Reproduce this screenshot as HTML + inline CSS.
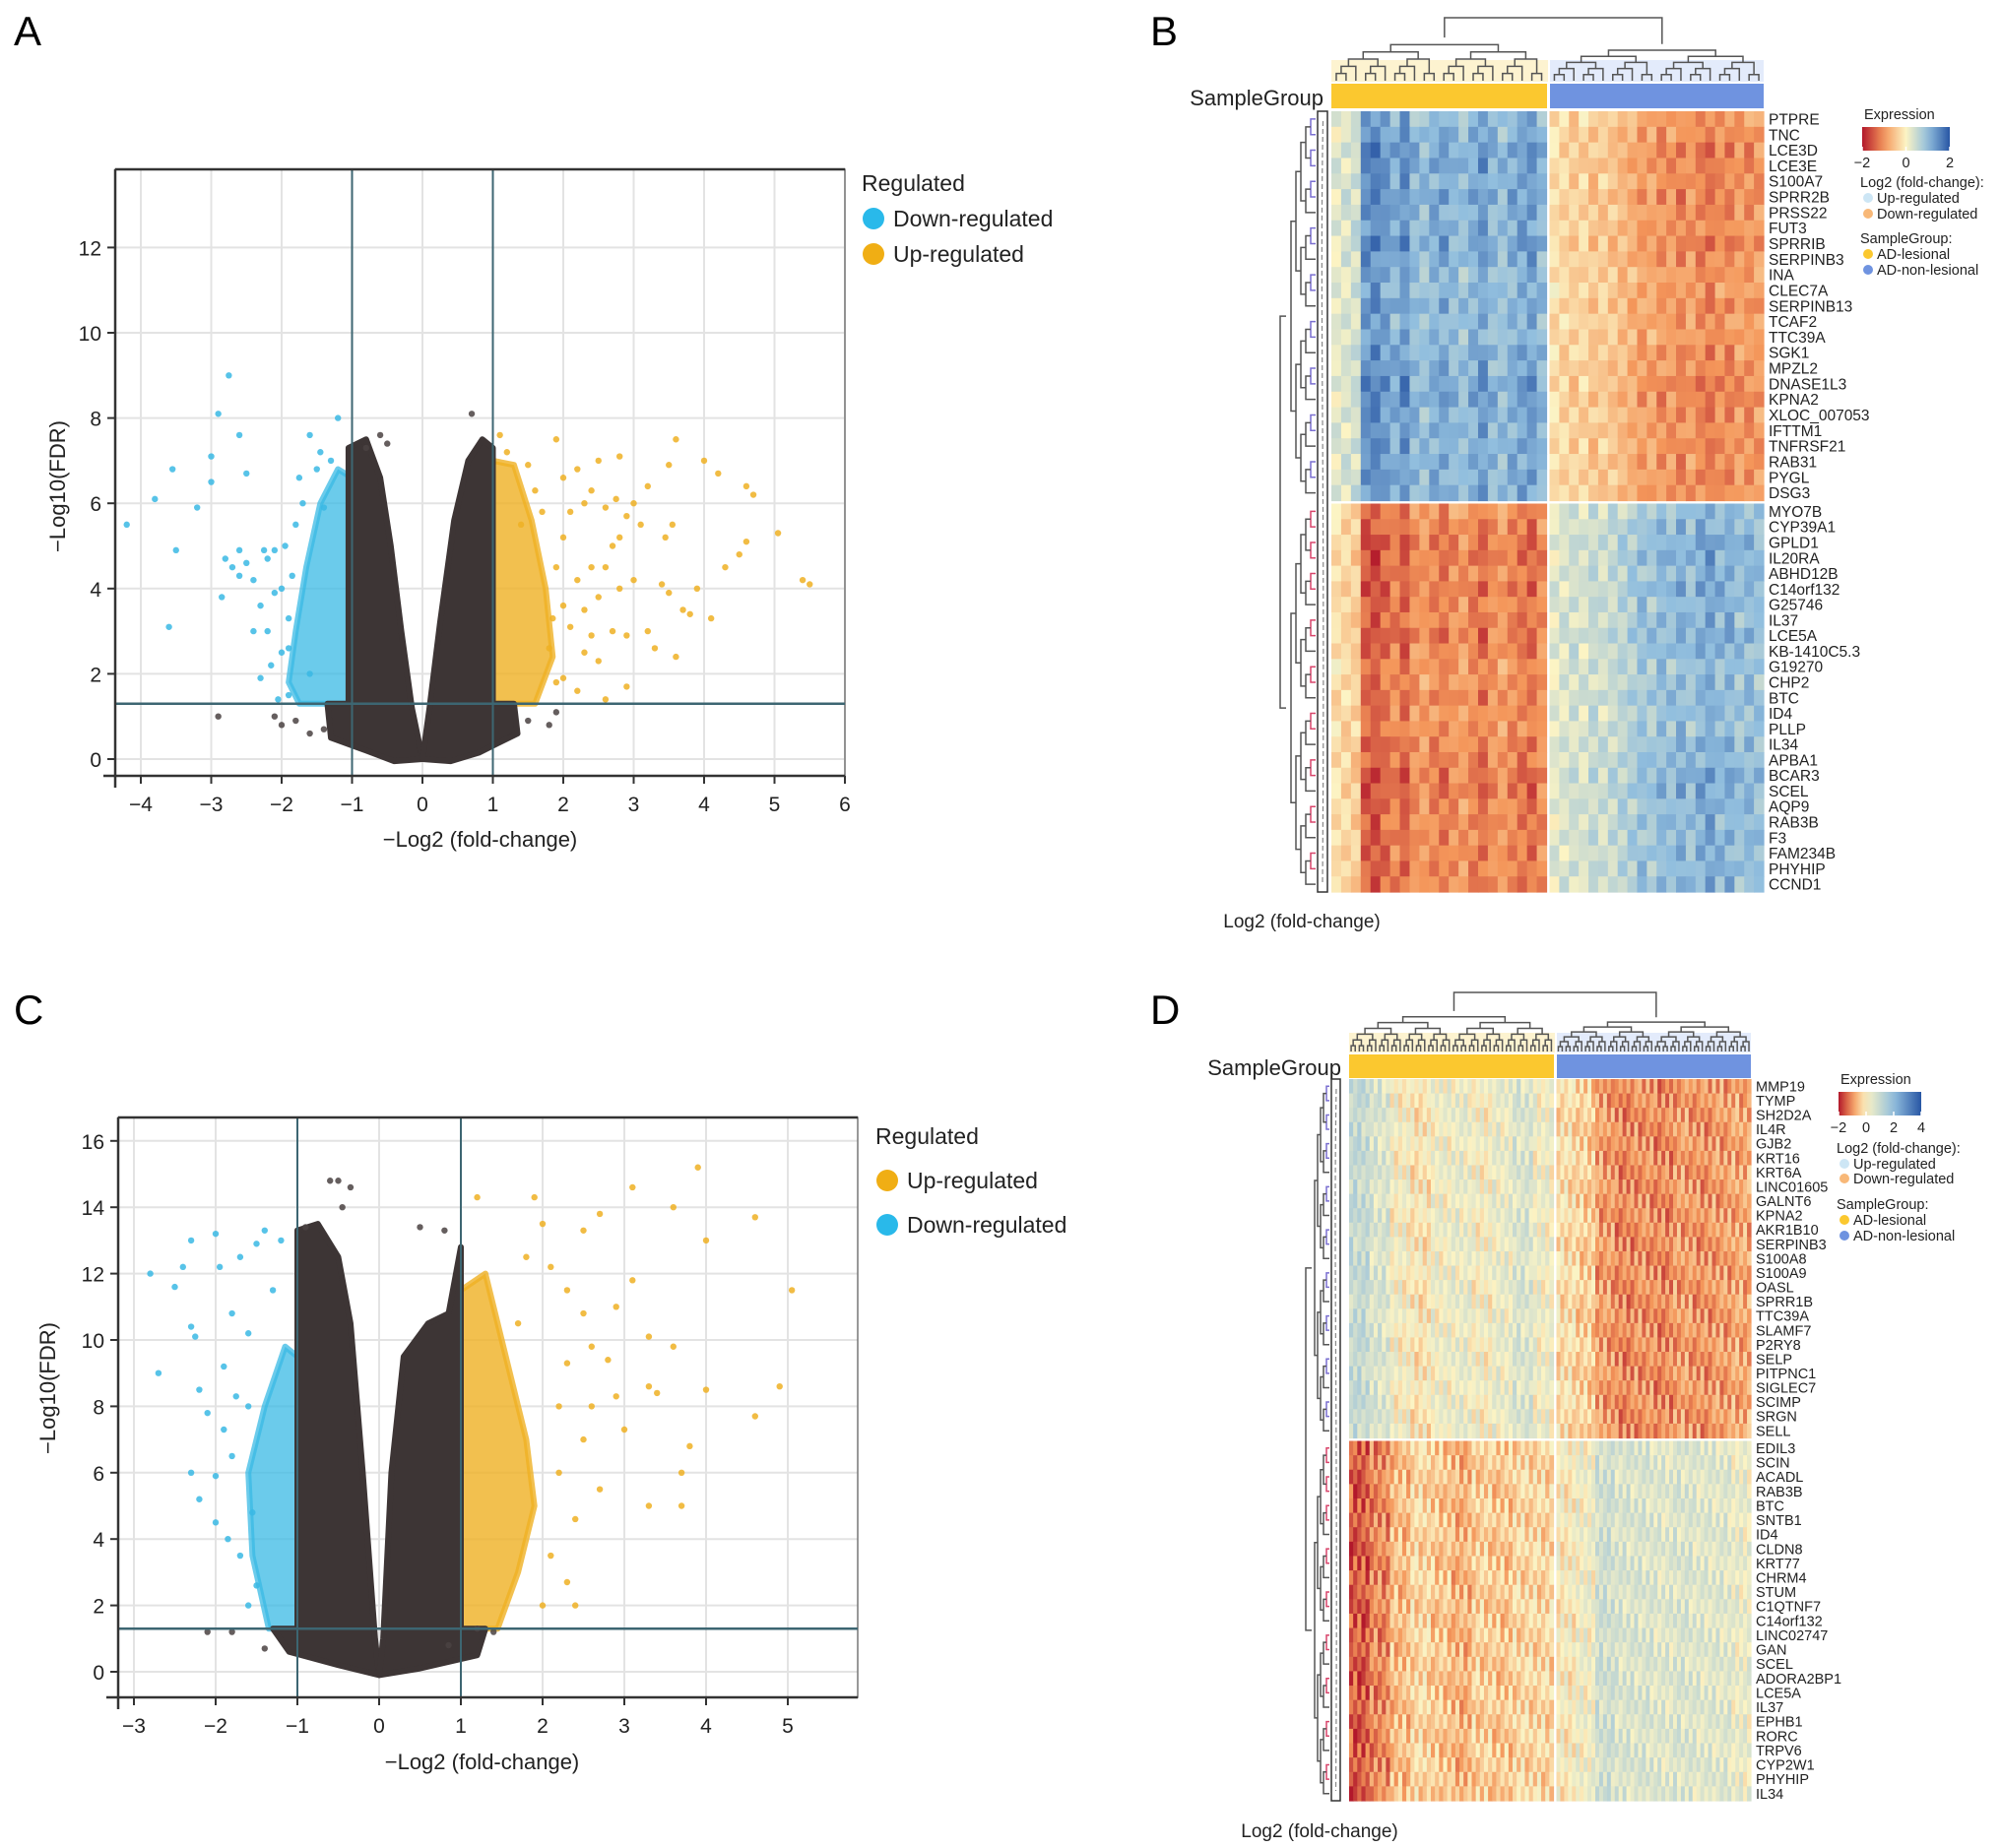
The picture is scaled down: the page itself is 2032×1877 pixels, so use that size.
<!DOCTYPE html>
<html><head><meta charset="utf-8"><style>
html,body{margin:0;padding:0;background:#fff;}
svg{display:block;font-family:"Liberation Sans",Arial,sans-serif;}
</style></head>
<body>
<svg id="fig" width="2032" height="1877" viewBox="0 0 2032 1877" xmlns="http://www.w3.org/2000/svg">
<text x="14" y="46" font-size="42">A</text>
<text x="1168" y="46" font-size="42">B</text>
<text x="14" y="1040" font-size="42">C</text>
<text x="1168" y="1040" font-size="42">D</text>
</svg>
<script>
// ---------- Volcano A data ----------
const aBlue=[[-4.2,5.5],[-3.8,6.1],[-3.6,3.1],[-3.5,4.9],[-3.55,6.8],[-3.2,5.9],[-3.0,6.5],[-3.0,7.1],[-2.9,8.1],[-2.75,9.0],[-2.6,7.6],[-2.5,6.7],[-2.85,3.8],[-2.8,4.7],[-2.7,4.5],[-2.6,4.9],[-2.5,4.6],[-2.4,4.2],[-2.3,3.6],[-2.2,4.7],[-2.1,3.9],[-2.3,1.9],[-2.2,3.0],[-2.0,2.5],[-1.9,3.3],[-1.95,5.0],[-1.8,5.5],[-1.7,6.0],[-1.6,7.6],[-1.5,6.8],[-1.4,5.9],[-1.3,7.0],[-1.2,8.0],[-1.9,1.5],[-2.05,1.4],[-2.6,4.3],[-2.25,4.9],[-1.75,6.6],[-1.45,7.2],[-2.15,2.2],[-1.6,2.0],[-1.85,4.3],[-2.4,3.0],[-2.0,4.0],[-1.9,2.6],[-2.1,4.9]];
const aGrey=[[-2.9,1.0],[-2.1,1.0],[-2.0,0.8],[-1.8,0.9],[-1.6,0.6],[1.9,1.1],[1.8,0.8],[1.5,0.9],[0.7,8.1],[-0.6,7.6],[-0.5,7.4],[-0.8,7.3],[-1.4,0.7]];
const aYellow=[[1.1,7.6],[1.2,7.2],[1.5,6.9],[1.9,7.5],[2.0,6.6],[2.2,6.8],[2.5,7.0],[2.8,7.1],[3.0,6.0],[3.2,6.4],[3.5,6.9],[3.6,7.5],[4.0,7.0],[4.2,6.7],[4.7,6.2],[4.6,6.4],[5.05,5.3],[5.4,4.2],[5.5,4.1],[4.5,4.8],[4.6,5.1],[4.3,4.5],[3.9,4.0],[3.8,3.4],[3.7,3.5],[4.1,3.3],[3.3,2.6],[3.2,3.0],[2.9,2.9],[3.0,4.2],[3.4,4.1],[3.55,5.5],[3.45,5.2],[2.7,5.0],[2.9,5.7],[2.6,4.5],[2.5,3.8],[2.4,4.5],[2.3,3.5],[2.2,4.2],[2.1,5.8],[2.3,6.0],[2.6,5.9],[2.8,5.2],[2.0,5.2],[1.9,4.5],[2.5,2.3],[2.7,3.0],[2.9,1.7],[2.6,1.4],[2.3,2.5],[2.1,3.1],[1.8,2.6],[2.0,1.9],[3.6,2.4],[3.5,3.9],[1.7,5.8],[1.6,6.3],[1.4,5.5],[2.4,6.3],[2.75,6.1],[3.1,5.5],[1.85,3.3],[2.2,1.6],[2.8,4.0],[2.0,3.6],[2.4,2.9],[1.9,1.8]];
const aGreyL=[[-1.05,7.3],[-0.8,7.5],[-0.6,6.6],[-0.45,5],[-0.3,3],[-0.15,1.2],[0,0],[-0.4,-0.05],[-0.8,0.2],[-1.3,0.5],[-1.35,1.3],[-1.05,1.3]];
const aGreyR=[[0,0],[0.1,1.2],[0.25,3.2],[0.45,5.6],[0.65,7.0],[0.85,7.5],[1.0,7.3],[1.0,1.3],[1.3,1.3],[1.35,0.6],[0.8,0.15],[0.4,-0.05]];
const aBlueDense=[[-1,1.3],[-1,6.6],[-1.2,6.8],[-1.45,6.0],[-1.65,4.5],[-1.8,3.0],[-1.9,1.8],[-1.75,1.3]];
const aYellowDense=[[1,1.3],[1,7.0],[1.3,6.9],[1.55,5.6],[1.75,4.0],[1.85,2.4],[1.6,1.3]];
// ---------- Volcano C data ----------
const cBlue=[[-2.8,12.0],[-2.7,9.0],[-2.5,11.6],[-2.4,12.2],[-2.3,10.4],[-2.25,10.1],[-2.0,13.2],[-1.95,12.2],[-2.2,8.5],[-2.1,7.8],[-2.3,6.0],[-2.2,5.2],[-2.0,4.5],[-1.9,9.2],[-1.8,10.8],[-1.7,12.5],[-1.6,10.2],[-1.8,6.5],[-1.7,3.5],[-1.6,2.0],[-1.5,12.9],[-1.4,13.3],[-1.2,13.0],[-1.3,11.5],[-2.3,13.0],[-1.9,7.3],[-2.0,5.9],[-1.75,8.3],[-1.85,4.0],[-1.55,4.8],[-1.6,8.0],[-1.5,2.6]];
const cGrey=[[-0.6,14.8],[-0.5,14.8],[-0.35,14.6],[-0.45,14.0],[-0.9,13.4],[0.5,13.4],[0.8,13.3],[-2.1,1.2],[-1.8,1.2],[-1.4,0.7],[1.2,1.3],[1.4,1.2],[0.85,0.8]];
const cYellow=[[3.9,15.2],[3.1,14.6],[2.7,13.8],[3.6,14.0],[4.6,13.7],[4.0,13.0],[3.1,11.8],[2.9,11.0],[3.3,10.1],[2.5,10.8],[2.1,12.2],[2.3,11.5],[5.05,11.5],[4.9,8.6],[4.6,7.7],[3.4,8.4],[3.3,8.6],[3.0,7.3],[3.8,6.8],[3.7,5.0],[4.0,8.5],[2.6,8.0],[2.3,9.3],[2.5,7.0],[2.2,6.0],[2.7,5.5],[2.4,4.6],[2.1,3.5],[2.3,2.7],[2.0,2.0],[2.4,2.0],[2.2,8.0],[2.8,9.4],[3.7,6.0],[1.8,12.5],[2.0,13.5],[1.7,10.5],[2.6,9.8],[1.9,14.3],[1.2,14.3],[2.5,13.3],[3.6,9.8],[3.3,5.0],[2.9,8.3]];
const cGreyL=[[-1.0,13.3],[-0.75,13.5],[-0.5,12.5],[-0.35,10.5],[-0.2,6],[-0.05,1],[0,-0.1],[-0.5,0.2],[-1.1,0.6],[-1.3,1.3],[-1.0,1.3]];
const cGreyR=[[0,-0.1],[0.05,1],[0.15,6],[0.3,9.5],[0.6,10.5],[0.85,10.8],[1.0,12.8],[1.0,1.3],[1.3,1.3],[1.2,0.5],[0.5,0.1]];
const cBlueDense=[[-1,1.3],[-1,9.5],[-1.15,9.8],[-1.4,8],[-1.6,6],[-1.55,3.5],[-1.35,1.3]];
const cYellowDense=[[1,1.3],[1,11.5],[1.3,12],[1.55,9.5],[1.8,7],[1.9,5],[1.7,3],[1.45,1.3]];

const S='http://www.w3.org/2000/svg';
const svg=document.getElementById('fig');
function el(tag,attrs,parent){const e=document.createElementNS(S,tag);for(const k in attrs)e.setAttribute(k,attrs[k]);(parent||svg).appendChild(e);return e;}
function txt(x,y,s,size,attrs,parent){const t=el('text',Object.assign({x:x,y:y,'font-size':size},attrs||{}),parent);t.textContent=s;return t;}

function volcano(cfg){
  const g=el('g',{});
  
  
  const X=v=>cfg.x0px+v*cfg.xs, Y=v=>cfg.y0px-v*cfg.ys;
  el('rect',{x:cfg.L,y:cfg.T,width:cfg.R-cfg.L,height:cfg.B-cfg.T,fill:'#fff'},g);
  for(const t of cfg.xt){const l=el('line',{x1:X(t),x2:X(t),y1:cfg.T,y2:cfg.B,stroke:'#e3e3e3','stroke-width':2},g);}
  for(const t of cfg.yt){const l=el('line',{x1:cfg.L,x2:cfg.R,y1:Y(t),y2:Y(t),stroke:'#e3e3e3','stroke-width':2},g);}
  el('rect',{x:cfg.L,y:cfg.T,width:cfg.R-cfg.L,height:cfg.B-cfg.T,fill:'none',stroke:'#777','stroke-width':1.5},g);
  const poly=(pts,fill,op,name)=>{const p=el('polygon',{points:pts.map(p=>X(p[0])+','+Y(p[1])).join(' '),fill:fill,'fill-opacity':op,stroke:fill,'stroke-width':6,'stroke-linejoin':'round','stroke-opacity':op},g);};
  const pts=(arr,fill,name)=>{for(const p of arr){const c=el('circle',{cx:X(p[0]),cy:Y(p[1]),r:3.2,fill:fill,'fill-opacity':0.85},g);}};
  poly(cfg.blueDense,'#39b9e4',0.75,'down-regulated-cluster');
  poly(cfg.yellowDense,'#efb023',0.8,'up-regulated-cluster');
  poly(cfg.greyL,'#3d3535',1,'not-significant-cluster-left');
  poly(cfg.greyR,'#3d3535',1,'not-significant-cluster-right');
  pts(cfg.blue,'#39b9e4','down-regulated-point');
  pts(cfg.yellow,'#efb023','up-regulated-point');
  pts(cfg.grey,'#4a4242','not-significant-point');
  for(const v of [-1,1]){const l=el('line',{x1:X(v),x2:X(v),y1:cfg.T,y2:cfg.B,stroke:'#3d6672','stroke-width':2},g);}
  const h=el('line',{x1:cfg.L,x2:cfg.R,y1:Y(1.3),y2:Y(1.3),stroke:'#3d6672','stroke-width':2.5},g);
  el('line',{x1:cfg.L-12,x2:cfg.R,y1:cfg.B,y2:cfg.B,stroke:'#333','stroke-width':2.5},g);
  el('line',{x1:cfg.L,x2:cfg.L,y1:cfg.T,y2:cfg.B+12,stroke:'#333','stroke-width':2.5},g);
  el('line',{x1:cfg.L,x2:cfg.R,y1:cfg.T,y2:cfg.T,stroke:'#333','stroke-width':2.5},g);
  for(const t of cfg.xt){el('line',{x1:X(t),x2:X(t),y1:cfg.B,y2:cfg.B+8,stroke:'#333','stroke-width':2},g);const tt=txt(X(t),cfg.B+36,(t<0?'\u2212':'')+Math.abs(t),21,{'text-anchor':'middle',fill:'#222'},g);}
  for(const t of cfg.yt){el('line',{x1:cfg.L-8,x2:cfg.L,y1:Y(t),y2:Y(t),stroke:'#333','stroke-width':2},g);const tt=txt(cfg.L-14,Y(t)+8,''+t,21,{'text-anchor':'end',fill:'#222'},g);}
  const xl=txt((cfg.L+cfg.R)/2+(cfg.xlOff||0),cfg.xlY,'\u2212Log2 (fold-change)',22,{'text-anchor':'middle',fill:'#222'},g);
  const yl=txt(0,0,'\u2212Log10(FDR)',22,{'text-anchor':'middle',fill:'#222',transform:`translate(${cfg.ylX},${cfg.ylY}) rotate(-90)`},g);
  const lg=el('g',{},g);
  txt(cfg.legX,cfg.legY,'Regulated',23,{fill:'#222'},lg);
  cfg.legItems.forEach((it,i)=>{const yy=cfg.legY+cfg.legGap*(i+1);const c=el('circle',{cx:cfg.legX+12,cy:yy-8,r:11,fill:it[1]},lg);const t=txt(cfg.legX+32,yy,it[0],23,{fill:'#222'},lg);});
}
volcano({name:'volcano-plot-a',L:117,R:858,T:172,B:788,x0px:429,xs:71.5,y0px:771,ys:43.3,xt:[-4,-3,-2,-1,0,1,2,3,4,5,6],yt:[0,2,4,6,8,10,12],
  blue:aBlue,yellow:aYellow,grey:aGrey,greyL:aGreyL,greyR:aGreyR,blueDense:aBlueDense,yellowDense:aYellowDense,
  xlY:860,xlOff:0,ylX:66,ylY:494,legX:875,legY:194,legGap:36,legItems:[['Down-regulated','#29b9ea'],['Up-regulated','#f0ae14']]});
volcano({name:'volcano-plot-c',L:120,R:871,T:1135,B:1724,x0px:385,xs:83,y0px:1698,ys:33.7,xt:[-3,-2,-1,0,1,2,3,4,5],yt:[0,2,4,6,8,10,12,14,16],
  blue:cBlue,yellow:cYellow,grey:cGrey,greyL:cGreyL,greyR:cGreyR,blueDense:cBlueDense,yellowDense:cYellowDense,
  xlY:1797,xlOff:-6,ylX:56,ylY:1410,legX:889,legY:1162,legGap:45,legItems:[['Up-regulated','#f0ae14'],['Down-regulated','#29b9ea']]});

// ---------- Heatmap B data ----------
const bGenesUp=['PTPRE','TNC','LCE3D','LCE3E','S100A7','SPRR2B','PRSS22','FUT3','SPRRIB','SERPINB3','INA','CLEC7A','SERPINB13','TCAF2','TTC39A','SGK1','MPZL2','DNASE1L3','KPNA2','XLOC_007053','IFTTM1','TNFRSF21','RAB31','PYGL','DSG3'];
const bGenesDown=['MYO7B','CYP39A1','GPLD1','IL20RA','ABHD12B','C14orf132','G25746','IL37','LCE5A','KB-1410C5.3','G19270','CHP2','BTC','ID4','PLLP','IL34','APBA1','BCAR3','SCEL','AQP9','RAB3B','F3','FAM234B','PHYHIP','CCND1'];
const bColL=[0.2,0.3,0.4,1.4,1.5,1.3,1.1,1.4,1.0,0.9,1.1,1.2,1.0,0.9,1.1,1.3,1.0,0.9,1.1,1.2,1.3,1.0];
const bColR=[0.2,0.3,0.4,0.3,0.5,0.4,0.5,0.6,0.7,0.9,0.8,1.0,0.9,1.1,0.9,1.1,1.2,1.0,1.1,0.9,1.0,0.9];
const bRowAmp=[0.9,1.0,1.1,1.1,1.0,1.1,1.0,1.0,1.1,1.0,0.9,0.9,1.0,0.9,0.9,1.0,1.0,1.1,1.1,1.0,1.0,1.0,1.0,1.0,1.0];
// ---------- Heatmap D data ----------
const dGenesUp=['MMP19','TYMP','SH2D2A','IL4R','GJB2','KRT16','KRT6A','LINC01605','GALNT6','KPNA2','AKR1B10','SERPINB3','S100A8','S100A9','OASL','SPRR1B','TTC39A','SLAMF7','P2RY8','SELP','PITPNC1','SIGLEC7','SCIMP','SRGN','SELL'];
const dGenesDown=['EDIL3','SCIN','ACADL','RAB3B','BTC','SNTB1','ID4','CLDN8','KRT77','CHRM4','STUM','C1QTNF7','C14orf132','LINC02747','GAN','SCEL','ADORA2BP1','LCE5A','IL37','EPHB1','RORC','TRPV6','CYP2W1','PHYHIP','IL34'];
const dUpL=[1.0,0.6,0.1,-0.1,0.2,0.3,0.1,0.3,0.6,0.2];
const dUpR=[-0.2,-0.4,-0.9,-1.1,-1.0,-1.1,-0.9,-1.0,-0.9,-0.8];
const dDownL=[-1.5,-1.1,-0.6,-0.3,-0.5,-0.7,-0.4,-0.5,-0.3,-0.3];
const dDownR=[0.0,0.2,0.8,0.6,0.6,0.5,0.6,0.5,0.5,0.3];
const cellNoise=[0.35,-0.4,0.1,-0.15,0.5,-0.3,0.2,-0.5,0.0,0.4,-0.2,0.3,-0.35,0.15,-0.05,0.45,-0.25];

function lerp(a,b,t){return a+(b-a)*t;}
function cmap(v,lo,hi){
  // zero-centred diverging map
  let t=v<0?0.5-0.5*Math.min(1,v/lo):0.5+0.5*Math.min(1,v/hi);
  const stops=[[0,[178,24,43]],[0.25,[244,150,90]],[0.5,[252,244,196]],[0.75,[145,190,222]],[1,[40,86,164]]];
  t=Math.max(0,Math.min(1,t));
  for(let i=1;i<stops.length;i++){if(t<=stops[i][0]){const a=stops[i-1],b=stops[i];const u=(t-a[0])/(b[0]-a[0]);return `rgb(${[0,1,2].map(k=>Math.round(lerp(a[1][k],b[1][k],u))).join(',')})`;}}
  return 'rgb(40,86,164)';
}
function dendroTop(g,xs,yBase,yTop,color){
  const depth=Math.ceil(Math.log2(xs.length))+1;
  function build(a,b){if(a===b)return {x:xs[a],h:0};const m=Math.floor((a+b)/2);const l=build(a,m),r=build(m+1,b);const h=Math.max(l.h,r.h)+1;
    const yl=yBase-l.h*(yBase-yTop)/depth, yr=yBase-r.h*(yBase-yTop)/depth, yh=yBase-h*(yBase-yTop)/depth;
    el('path',{d:`M${l.x},${yl}V${yh}H${r.x}V${yr}`,fill:'none',stroke:color,'stroke-width':1.5},g);return {x:(l.x+r.x)/2,h:h};}
  return build(0,xs.length-1);
}
function dendroLeft(g,ys,xBase,xLeft,color,depth){
  function build(a,b){if(a===b)return {y:ys[a],h:0};const m=Math.floor((a+b)/2);const l=build(a,m),r=build(m+1,b);const h=Math.max(l.h,r.h)+1;
    const xl=xBase-l.h*(xBase-xLeft)/depth, xr=xBase-r.h*(xBase-xLeft)/depth, xh=xBase-h*(xBase-xLeft)/depth;
    el('path',{d:`M${xl},${l.y}H${xh}V${r.y}H${xr}`,fill:'none',stroke:h===1?color:'#555','stroke-width':1.5},g);return {y:(l.y+r.y)/2,h:h};}
  return build(0,ys.length-1);
}
function heatmap(c){
  const g=el('g',{});
  
  
  const nL=c.nL,nR=c.nR,gap=3;
  const wL=(c.xs-c.x0-gap/2)/nL,wR=(c.x1-c.xs-gap/2)/nR;
  const nu=c.genesUp.length,nd=c.genesDown.length;
  const hU=(c.ys-c.y0-gap/2)/nu,hD=(c.y1-c.ys-gap/2)/nd;
  const colX=[],colW=[];
  for(let i=0;i<nL;i++){colX.push(c.x0+i*wL);colW.push(wL);}
  for(let i=0;i<nR;i++){colX.push(c.xs+gap/2+i*wR);colW.push(wR);}
  const rowY=[],rowH=[],genes=c.genesUp.concat(c.genesDown);
  for(let i=0;i<nu;i++){rowY.push(c.y0+i*hU);rowH.push(hU);}
  for(let i=0;i<nd;i++){rowY.push(c.ys+gap/2+i*hD);rowH.push(hD);}
  for(let r=0;r<genes.length;r++){
    for(let k=0;k<nL+nR;k++){
      const v=c.value(r,k,r<nu,k<nL,k<nL?k:k-nL);
      const rc=el('rect',{x:colX[k].toFixed(2),y:rowY[r].toFixed(2),width:(colW[k]+0.6).toFixed(2),height:(rowH[r]+0.6).toFixed(2),fill:cmap(v,c.lo,c.hi)},g);
      
      
    }
    const t=txt(c.x1+5,rowY[r]+rowH[r]*0.85,genes[r],c.fs,{fill:'#222'},g);
    
    
  }
  const sb1=el('rect',{x:c.x0,y:c.sgY,width:c.xs-c.x0-1,height:c.sgH,fill:'#fbc82f'},g);
  const sb2=el('rect',{x:c.xs+2,y:c.sgY,width:c.x1-c.xs-2,height:c.sgH,fill:'#6f93e0'},g);
  const sgt=txt(c.x0-8,c.sgY+c.sgH-3,'SampleGroup',c.sgFs,{'text-anchor':'end',fill:'#222'},g);
  const dg=el('g',{},g);
  const cxL=[],cxR=[];for(let k=0;k<nL;k++)cxL.push(colX[k]+colW[k]/2);for(let k=nL;k<nL+nR;k++)cxR.push(colX[k]+colW[k]/2);
  el('rect',{x:c.x0,y:c.sgY-c.leafH-2,width:c.xs-c.x0,height:c.leafH,fill:'#fdf3d0'},dg);
  el('rect',{x:c.xs+2,y:c.sgY-c.leafH-2,width:c.x1-c.xs-2,height:c.leafH,fill:'#e3ebfb'},dg);
  const midA=c.dTop+(c.sgY-c.dTop)*0.3, midB=c.dTop+(c.sgY-c.dTop)*0.4;
  const a=dendroTop(dg,cxL,c.sgY-3,midA,'#555'),b=dendroTop(dg,cxR,c.sgY-3,midB,'#555');
  el('path',{d:`M${a.x},${midA}V${c.dTop}H${b.x}V${midB}`,fill:'none',stroke:'#555','stroke-width':1.5},dg);
  const lg=el('g',{},g);
  const cyU=[],cyD=[];for(let r=0;r<nu;r++)cyU.push(rowY[r]+rowH[r]/2);for(let r=nu;r<nu+nd;r++)cyD.push(rowY[r]+rowH[r]/2);
  const lm=c.lx0+6;
  const u=dendroLeft(lg,cyU,c.lx1,lm,'#7a6fd0',6),d=dendroLeft(lg,cyD,c.lx1,lm,'#d8456b',6);
  el('path',{d:`M${lm},${u.y}H${c.lx0}V${d.y}H${lm}`,fill:'none',stroke:'#555','stroke-width':1.5},lg);
  const st=el('rect',{x:c.sx,y:c.y0,width:c.sw,height:c.y1-c.y0,fill:'#fff',stroke:'#333','stroke-width':1.5},g);
  el('path',{d:`M${c.sx+c.sw*0.55},${c.y0+10} C${c.sx+2},${(c.y0+c.ys)/2} ${c.sx+c.sw-2},${c.ys} ${c.sx+c.sw*0.5},${c.y1-10}`,fill:'none',stroke:'#888','stroke-width':1.2,'stroke-dasharray':'5 3'},g);
  const fl=txt(c.flX,c.flY,'Log2 (fold-change)',c.flFs,{'text-anchor':'middle',fill:'#222'},g);
  const L=el('g',{},g);
  txt(c.legX+2,c.legY,'Expression',c.lfs,{fill:'#222'},L);
  const gid='grad'+c.name;const defs=el('defs',{},L);const gr=el('linearGradient',{id:gid},defs);
  for(let i=0;i<=10;i++){const o=i/10;el('stop',{offset:o,'stop-color':cmap(c.lo+o*(c.hi-c.lo),c.lo,c.hi)},gr);}
  const cb=el('rect',{x:c.legX,y:c.legY+8,width:c.cbW,height:c.cbH,fill:`url(#${gid})`},L);
  c.cbTicks.forEach(t=>{const xx=c.legX+(t-c.lo)/(c.hi-c.lo)*c.cbW;el('line',{x1:xx,x2:xx,y1:c.legY+8+c.cbH-4,y2:c.legY+8+c.cbH,stroke:'#fff','stroke-width':1.5},L);txt(xx,c.legY+c.cbH+25,(t<0?'\u2212':'')+Math.abs(t),c.lfs,{'text-anchor':'middle',fill:'#222'},L);});
  const items=[['Log2 (fold-change):',null],['Up-regulated','#cde6f5'],['Down-regulated','#f8b878'],['SampleGroup:',null],['AD-lesional','#fbc82f'],['AD-non-lesional','#6f93e0']];
  items.forEach((it,i)=>{const yy=c.legY+c.items[i];if(it[1]){el('circle',{cx:c.legX+6,cy:yy-5,r:5,fill:it[1]},L);const t=txt(c.legX+15,yy,it[0],c.lfs,{fill:'#222'},L);}else{txt(c.legX-2,yy,it[0],c.lfs,{fill:'#222'},L);}});
}
heatmap({name:'heatmap-b',x0:1352,x1:1791,xs:1572,y0:113,y1:906,ys:510,nL:bColL.length,nR:bColR.length,genesUp:bGenesUp,genesDown:bGenesDown,
  lo:-2,hi:2,fs:15.5,sgY:85,sgH:25,sgFs:22,leafH:22,dTop:18,lx0:1300,lx1:1336,sx:1338,sw:10,flX:1322,flY:942,flFs:19,
  legX:1891,legY:121,cbW:89,cbH:24,lfs:14.5,cbTicks:[-2,0,2],items:[69,85,101,126,142,158],
  value:(r,k,up,left,j)=>{const amp=(left?bColL[j]:bColR[j])*bRowAmp[r%bRowAmp.length]+cellNoise[(r*7+k*3)%cellNoise.length]*0.6;const sgn=(up===left)?1:-1;return sgn*amp;}});
heatmap({name:'heatmap-d',x0:1370,x1:1778,xs:1579,y0:1096,y1:1829,ys:1462,nL:50,nR:50,genesUp:dGenesUp,genesDown:dGenesDown,
  lo:-2,hi:4,fs:14.5,sgY:1071,sgH:24,sgFs:22,leafH:20,dTop:1008,lx0:1326,lx1:1350,sx:1352,sw:9,flX:1340,flY:1866,flFs:19,
  legX:1867,legY:1101,cbW:84,cbH:24,lfs:14.5,cbTicks:[-2,0,2,4],items:[70,86,101,127,143,159],
  value:(r,k,up,left,j)=>{const b=Math.floor(j/5);const base=up?(left?dUpL[b]:dUpR[b]):(left?dDownL[b]:dDownR[b]);return base+cellNoise[(r*5+k*3)%cellNoise.length]*1.1;}});
</script>
</body></html>
